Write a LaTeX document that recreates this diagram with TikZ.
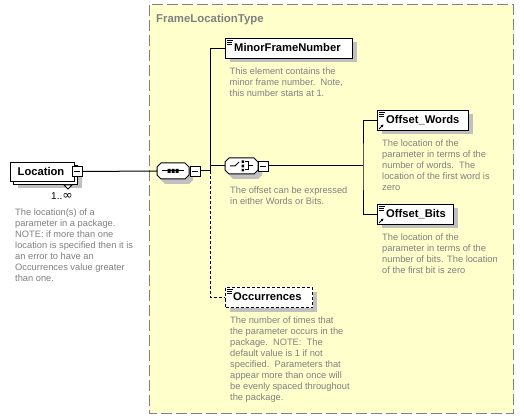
\documentclass[tikz,border=0pt]{standalone}
\usepackage{fontspec}
\setmainfont{Liberation Sans}
\newfontfamily\symfont{DejaVu Sans}
\usetikzlibrary{shadows,arrows.meta}
\definecolor{bgyellow}{HTML}{FFFFCC}
\definecolor{txtgray}{HTML}{808080}
\definecolor{shadowgray}{HTML}{C0C0C0}
\tikzset{
  elem/.style={draw=black, fill=white, line width=1pt, inner sep=0pt, anchor=north west,
    general shadow={fill=shadowgray, shadow xshift=4pt, shadow yshift=-4pt}},
  elemplain/.style={draw=black, fill=white, line width=1pt, inner sep=0pt, anchor=north west},
  lbl/.style={font=\fontsize{11.2}{13}\selectfont\bfseries, inner sep=0pt, anchor=west},
  desc/.style={font=\fontsize{9.3}{11}\selectfont, text=txtgray, inner sep=0pt, anchor=north west, align=left},
  minusbox/.style={draw=black, fill=white, line width=0.8pt, minimum size=10pt, inner sep=0pt},
  conn/.style={line width=1pt, draw=black},
  dconn/.style={line width=1pt, draw=black, dash pattern=on 3pt off 2pt},
  comp/.style={draw=black, fill=white, line width=1pt,
    general shadow={fill=shadowgray, shadow xshift=4pt, shadow yshift=-5pt}},
}
\newcommand{\elemicon}[1]{%
  \draw[line width=0.8pt] ([xshift=2pt,yshift=-2pt]#1.north west) -- ++(6pt,0)
    ([xshift=2pt,yshift=-4pt]#1.north west) -- ++(5pt,0)
    ([xshift=2pt,yshift=-6pt]#1.north west) -- ++(5pt,0);}
\newcommand{\refarrow}[1]{%
  \draw[line width=0.9pt,-{Triangle[length=2.5pt,width=2.5pt]}] ([xshift=2pt,yshift=2pt]#1.south west) -- ++(4.5pt,4.5pt);}
\begin{document}
\begin{tikzpicture}[x=1pt,y=-1pt]
\useasboundingbox (0,0) rectangle (524,419);
\fill[white] (0,0) rectangle (524,419);
% type container
\draw[fill=bgyellow, draw=txtgray, line width=1pt, dash pattern=on 11pt off 4pt] (149,5) rectangle (513,413);
\node[font=\fontsize{11.4}{13}\selectfont\bfseries, text=txtgray, inner sep=0pt, anchor=base west] (title) at (156,22.5) {FrameLocationType};

% Location element (multiple occurrence)
\node[elem, minimum width=64pt, minimum height=19pt] (locback) at (13,165) {};
\node[elemplain, minimum width=64pt, minimum height=19pt] (loc) at (10,162) {};
\node[lbl, anchor=center] (loclbl) at (41,171.5) {Location};
\draw[line width=0.8pt, fill=white] (64,185) -- (72,185) -- (68,189) -- cycle;
\node[minusbox] (locminus) at (77,171.5) {};
\draw[line width=0.8pt] ([xshift=-3pt]locminus.center) -- ([xshift=3pt]locminus.center);
\node[font=\fontsize{10}{11}\selectfont, inner sep=0pt, anchor=base] (lococc) at (62,200) {1..{\symfont\fontsize{12.5}{11}\selectfont ∞}};
\node[desc] (locdesc) at (15,209) {The location(s) of a\\parameter in a package.\\NOTE: if more than one\\location is specified then it is\\an error to have an\\Occurrences value greater\\than one.};

% sequence compositor
\path[comp] (161,163) -- (185,163) -- (189,167) -- (189,175) -- (185,179) -- (161,179) -- (157,175) -- (157,167) -- cycle;
\coordinate (seqw) at (157,171);
\draw[line width=1pt] (162,171) -- (184,171);
\fill (167.5,169) rectangle (170.5,173) (171.5,169) rectangle (174.5,173) (175.5,169) rectangle (178.5,173);
\node[minusbox] (seqminus) at (195,171) {};
\draw[line width=0.8pt] ([xshift=-3pt]seqminus.center) -- ([xshift=3pt]seqminus.center);

% choice compositor
\path[comp] (229,158) -- (254,158) -- (258,162) -- (258,170) -- (254,174) -- (229,174) -- (225,170) -- (225,162) -- cycle;
\coordinate (chw) at (225,166);
\draw[line width=1pt] (230,166) -- (235,166) -- (239,162);
\fill (241.5,160.5) rectangle (244,163) (241.5,164.7) rectangle (244,167.3) (241.5,169) rectangle (244,171.5);
\draw[line width=1pt] (245,162) -- (248,162) -- (248,170) -- (245,170) (248,166) -- (253,166);
\node[minusbox] (chminus) at (263,166) {};
\draw[line width=0.8pt] ([xshift=-3pt]chminus.center) -- ([xshift=3pt]chminus.center);
\node[desc] (chdesc) at (230,186.5) {The offset can be expressed\\in either Words or Bits.};

% MinorFrameNumber
\node[elem, minimum width=127pt, minimum height=20pt] (mfn) at (225,38) {};
\elemicon{mfn}
\node[lbl] (mfnlbl) at (234,48) {MinorFrameNumber};
\node[desc] (mfndesc) at (229.5,68) {This element contains the\\minor frame number.\ \ Note,\\this number starts at 1.};

% Occurrences (optional)
\node[elem, dash pattern=on 3pt off 2pt, minimum width=87pt, minimum height=20pt] (occ) at (225,287) {};
\elemicon{occ}
\node[lbl] (occlbl) at (233,297) {Occurrences};
\node[desc] (occdesc) at (230,316.5) {The number of times that\\the parameter occurs in the\\package.\ \ NOTE:\ \ The\\default value is 1 if not\\specified.\ \ Parameters that\\appear more than once will\\be evenly spaced throughout\\the package.};

% Offset_Words
\node[elem, minimum width=91pt, minimum height=20pt] (ow) at (377,110) {};
\elemicon{ow}
\refarrow{ow}
\node[lbl] (owlbl) at (386,120) {Offset\_Words};
\node[desc] (owdesc) at (382,139.5) {The location of the\\parameter in terms of the\\number of words.\ \ The\\location of the first word is\\zero};

% Offset_Bits
\node[elem, minimum width=76pt, minimum height=20pt] (ob) at (377,204) {};
\elemicon{ob}
\refarrow{ob}
\node[lbl] (oblbl) at (386,214) {Offset\_Bits};
\node[desc] (obdesc) at (382,233.5) {The location of the\\parameter in terms of the\\number of bits. The location\\of the first bit is zero};

% connectors
\coordinate (j1) at (210,171);
\coordinate (j2) at (363,166);
\draw[conn] (locminus.east) -- (seqw);
\draw[conn] (seqminus.east) -- (j1);
\draw[conn] (mfn.west) -| (j1);
\draw[conn] (j1 |- chw) -- (chw);
\draw[dconn] (j1) |- (occ.west);
\draw[conn] (chminus.east) -- (j2);
\draw[conn] (ow.west) -| (j2) |- (ob.west);
\end{tikzpicture}
\end{document}
